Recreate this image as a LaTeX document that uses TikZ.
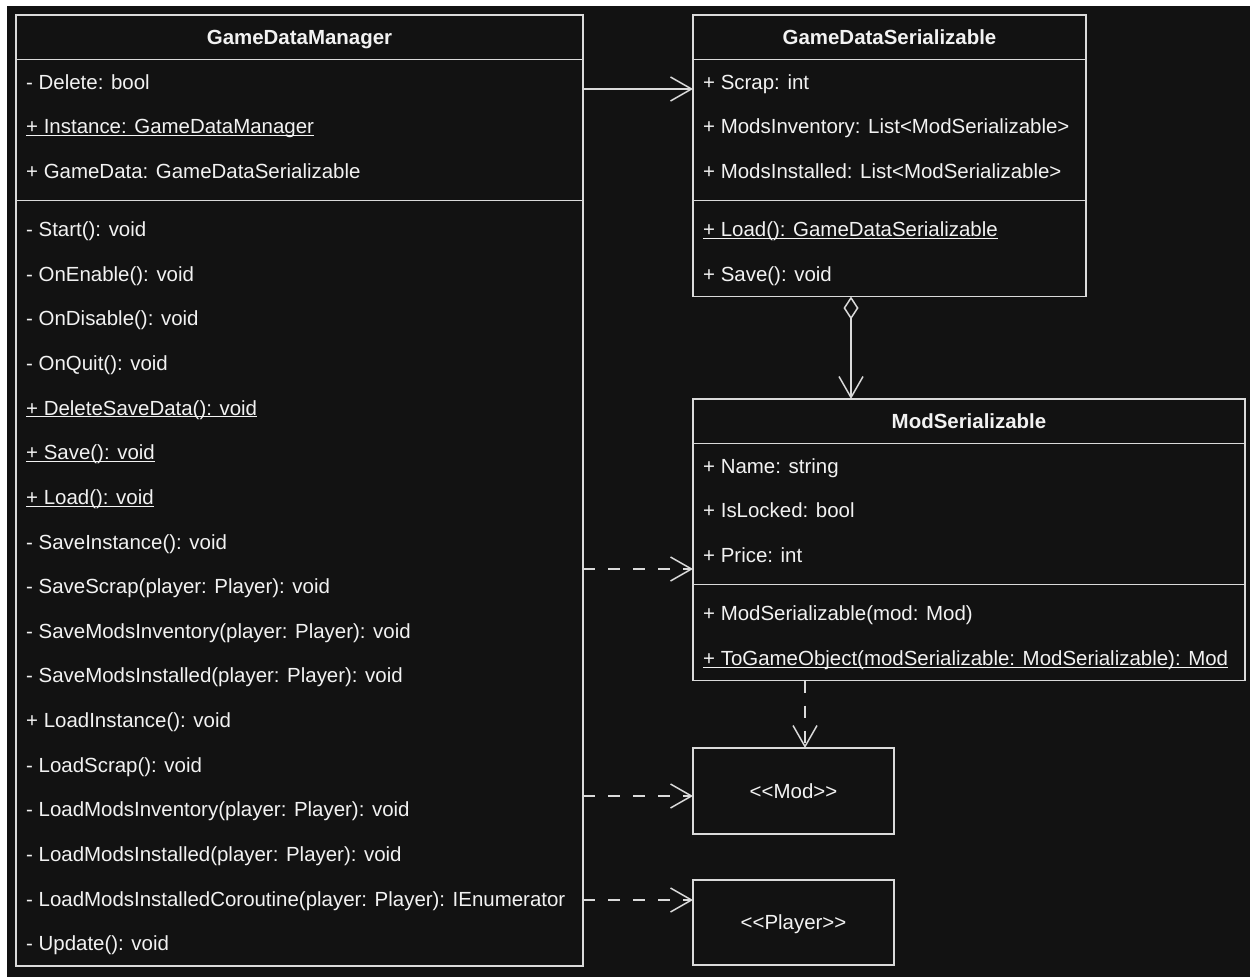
\documentclass[tikz,border=0pt]{standalone}
\usepackage{fontspec}
\setmainfont{Liberation Sans}
\usetikzlibrary{arrows.meta}
\definecolor{bg}{HTML}{121212}
\definecolor{ln}{HTML}{DADADA}
\definecolor{tx}{HTML}{F2F2F2}
\newcommand\uln[1]{\underline{\smash{#1}}}
\begin{document}
\begin{tikzpicture}[x=1pt,y=-1pt,
 umlbox/.style={draw=ln, line width=1.5pt, inner sep=0pt, outer sep=0pt, anchor=north west},
 member/.style={anchor=base west, inner sep=0pt, text=tx, font=\fontsize{20.45}{24}\selectfont},
 title/.style={anchor=base, inner sep=0pt, text=tx, font=\fontsize{20.45}{24}\selectfont\bfseries},
 smallbox/.style={umlbox, text=tx, font=\fontsize{20.45}{24}\selectfont, text height=14.6pt, text depth=0pt, minimum width=201pt},
 sepline/.style={draw=ln, line width=1.5pt},
 conn/.style={draw=ln, line width=1.5pt, -{Straight Barb[length=21pt,width=24pt]}},
 dep/.style={conn, dash pattern=on 12pt off 13pt},
 aggr/.style={conn, {Diamond[open,length=23pt,width=15pt]}-{Straight Barb[length=21pt,width=24pt]}}
]
\useasboundingbox (0,0) rectangle (1250,977);
\fill[white] (0,0) rectangle (1250,977);
\fill[bg] (7,6) rectangle (1250,977);

% ---------- GameDataManager ----------
\node[umlbox, minimum width=567pt, minimum height=951pt] (gdm) at (16,15) {};
\node[title] (gdmT) at (299.5,44.5) {GameDataManager};
\draw[sepline] (gdm.north west) ++(0,44.62) -- ++(567,0);
\draw[sepline] (gdm.north west) ++(0,185.35) -- ++(567,0);
\foreach \txt [count=\i from 0] in {- Delete: bool, \uln{+ Instance: GameDataManager}, + GameData: GameDataSerializable}
  \node[member] (gdmA\i) at (26,{59.62+44.62*(\i+0.5)+7.2}) {\txt};
\foreach \txt [count=\i from 0] in {- Start(): void, - OnEnable(): void, - OnDisable(): void, - OnQuit(): void, \uln{+ DeleteSaveData(): void}, \uln{+ Save(): void}, \uln{+ Load(): void}, - SaveInstance(): void, - SaveScrap(player: Player): void, - SaveModsInventory(player: Player): void, - SaveModsInstalled(player: Player): void, + LoadInstance(): void, - LoadScrap(): void, - LoadModsInventory(player: Player): void, - LoadModsInstalled(player: Player): void, - LoadModsInstalledCoroutine(player: Player): IEnumerator, - Update(): void}
  \node[member] (gdmM\i) at (26,{207.21+44.62*(\i+0.5)+7.2}) {\txt};

% ---------- GameDataSerializable ----------
\node[umlbox, minimum width=393pt, minimum height=281.5pt] (gds) at (693,15) {};
\node[title] (gdsT) at (889.5,44.5) {GameDataSerializable};
\draw[sepline] (gds.north west) ++(0,44.62) -- ++(393,0);
\draw[sepline] (gds.north west) ++(0,185.35) -- ++(393,0);
\foreach \txt [count=\i from 0] in {+ Scrap: int, + ModsInventory: List<ModSerializable>, + ModsInstalled: List<ModSerializable>}
  \node[member] (gdsA\i) at (703,{59.62+44.62*(\i+0.5)+7.2}) {\txt};
\foreach \txt [count=\i from 0] in {\uln{+ Load(): GameDataSerializable}, + Save(): void}
  \node[member] (gdsM\i) at (703,{207.21+44.62*(\i+0.5)+7.2}) {\txt};

% ---------- ModSerializable ----------
\node[umlbox, minimum width=552pt, minimum height=281.5pt] (ms) at (693,399) {};
\node[title] (msT) at (969,428.5) {ModSerializable};
\draw[sepline] (ms.north west) ++(0,44.62) -- ++(552,0);
\draw[sepline] (ms.north west) ++(0,185.35) -- ++(552,0);
\foreach \txt [count=\i from 0] in {+ Name: string, + IsLocked: bool, + Price: int}
  \node[member] (msA\i) at (703,{443.62+44.62*(\i+0.5)+7.2}) {\txt};
\foreach \txt [count=\i from 0] in {+ ModSerializable(mod: Mod), \uln{+ ToGameObject(modSerializable: ModSerializable): Mod}}
  \node[member] (msM\i) at (703,{591.21+44.62*(\i+0.5)+7.2}) {\txt};

% ---------- Mod / Player ----------
\node[smallbox, minimum height=86pt] (mod) at (693,748) {<{}<Mod>{}>};
\node[smallbox, minimum height=85pt] (player) at (693,880) {<{}<Player>{}>};

% ---------- Connectors ----------
\draw[conn] ([yshift=-74pt]gdm.north east) -- ([yshift=-74pt]gds.north west);
\draw[aggr] ([xshift=158pt]gds.south west) -- ([xshift=158pt]ms.north west);
\draw[dep] ([yshift=-554pt]gdm.north east) -- ([yshift=-170pt]ms.north west);
\draw[dep] ([xshift=112pt]ms.south west) -- ([xshift=112pt]mod.north west);
\draw[dep] ([yshift=-781pt]gdm.north east) -- ([yshift=-48pt]mod.north west);
\draw[dep] ([yshift=-885pt]gdm.north east) -- ([yshift=-20pt]player.north west);
\end{tikzpicture}
\end{document}
